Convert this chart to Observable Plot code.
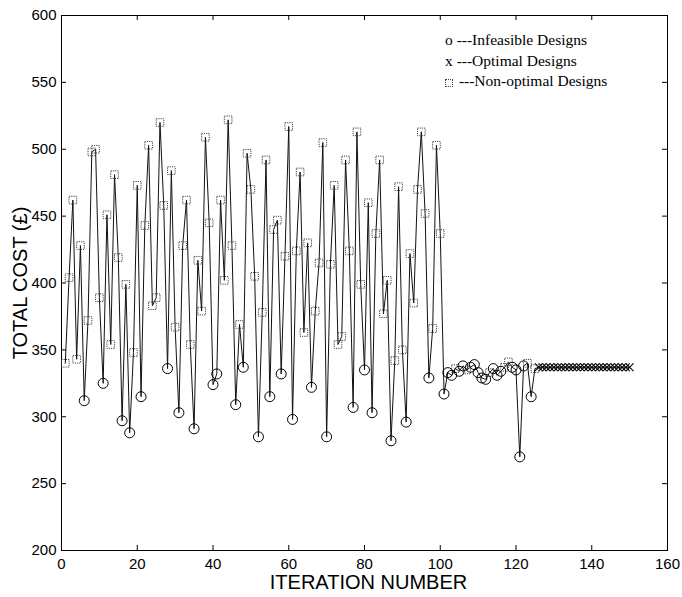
<!DOCTYPE html>
<html><head><meta charset="utf-8">
<script src="https://cdn.jsdelivr.net/npm/d3@7"></script>
<script src="https://cdn.jsdelivr.net/npm/@observablehq/plot@0.6"></script>
<style>
body{margin:0;background:#fff;}
#wrap{position:relative;width:682px;height:597px;}
.legend{position:absolute;left:445px;top:30px;font-family:"Liberation Serif","Times New Roman",serif;font-size:15.5px;line-height:20.5px;color:#000;white-space:nowrap;}
.sq{display:inline-block;width:6px;height:6px;border:1px dotted #444;margin-right:2px;vertical-align:-1px;}
</style></head><body><div id="wrap"></div>
<script>
// ---- data ----
const totalCost = [
 340,404,462,343,428,312,372,498,500,389,
 325,451,354,481,419,297,399,288,348,473,
 315,443,503,383,389,520,458,336,484,367,
 303,428,462,354,291,417,379,509,445,324,
 332,462,402,522,428,309,369,337,497,470,
 405,285,378,492,315,440,447,332,420,517,
 298,424,483,363,430,322,379,415,505,285,
 414,473,354,360,492,424,307,513,399,335,
 460,303,437,492,377,402,282,342,472,350,
 296,422,385,470,513,452,329,366,503,437,
 317,333,331,336,334,338,335,337,339,333,
 329,328,333,336,331,334,337,341,337,335,
 270,338,340,315,336,337,337,337,337,337,
 337,337,337,337,337,337,337,337,337,337,
 337,337,337,337,337,337,337,337,337,337
];
// I = infeasible, O = optimal, N = non-optimal
const designType = [
 "N","N","N","N","N","I","N","N","N","N",
 "I","N","N","N","N","I","N","I","N","N",
 "I","N","N","N","N","N","N","I","N","N",
 "I","N","N","N","I","N","N","N","N","I",
 "I","N","N","N","N","I","N","I","N","N",
 "N","I","N","N","I","N","N","I","N","N",
 "I","N","N","N","N","I","N","N","N","I",
 "N","N","N","N","N","N","I","N","N","I",
 "N","I","N","N","N","N","I","N","N","N",
 "I","N","N","N","N","N","I","N","N","N",
 "I","I","I","N","I","I","N","I","I","I",
 "I","I","N","I","I","I","N","N","I","I",
 "I","I","N","I","N","O","O","O","O","O",
 "O","O","O","O","O","O","O","O","O","O",
 "O","O","O","O","O","O","O","O","O","O"
];
const xTicks = [0,20,40,60,80,100,120,140,160];
const yTicks = [200,250,300,350,400,450,500,550,600];
const xLabel = "ITERATION NUMBER";
const yLabel = "TOTAL COST (£)";
const legendItems = ["---Infeasible Designs","---Optimal Designs","---Non-optimal Designs"];

const data = totalCost.map((v,k)=>({iter:k+1, cost:v, type:designType[k]}));
const W = 682, H = 597, mL = 61, mR = 15, mT = 15, mB = 47;
const fw = W-mL-mR, fh = H-mT-mB, tk = 5;

const chart = Plot.plot({
  width: W, height: H,
  marginLeft: mL, marginRight: mR, marginTop: mT, marginBottom: mB,
  style: {fontFamily: "'Liberation Sans', Arial, sans-serif", background: "#fff", color: "#000"},
  x: {domain: [0,160]},
  y: {domain: [200,600]},
  marks: [
    Plot.frame({stroke: "#000", strokeWidth: 1}),
    Plot.axisX({ticks: xTicks, tickSize: 0, tickPadding: 8, fontSize: 15, label: null, tickFormat: d=>d}),
    Plot.axisY({ticks: yTicks, tickSize: 0, tickPadding: 5, fontSize: 15, label: null, tickFormat: d=>d}),
    Plot.ruleX(xTicks, {x: d=>d, insetTop: fh-tk, stroke: "#000"}),
    Plot.ruleX(xTicks, {x: d=>d, insetBottom: fh-tk, stroke: "#000"}),
    Plot.ruleY(yTicks, {y: d=>d, insetRight: fw-tk, stroke: "#000"}),
    Plot.ruleY(yTicks, {y: d=>d, insetLeft: fw-tk, stroke: "#000"}),
    Plot.line(data, {x: "iter", y: "cost", stroke: "#111", strokeWidth: 1}),
    Plot.dot(data.filter(d=>d.type==="N"), {x: "iter", y: "cost", symbol: "square", r: 4.3, stroke: "#444", strokeWidth: 1, strokeDasharray: "1.2,1", fill: "none"}),
    Plot.dot(data.filter(d=>d.type==="I"), {x: "iter", y: "cost", symbol: "circle", r: 5, stroke: "#000", strokeWidth: 1, fill: "none"}),
    Plot.dot(data.filter(d=>d.type==="O"), {x: "iter", y: "cost", symbol: "times", r: 3.6, stroke: "#000", strokeWidth: 1.1}),
    Plot.text([xLabel], {frameAnchor: "bottom", text: d=>d, dy: 24, dx: 4, lineAnchor: "top", fontSize: 20}),
    Plot.text([yLabel], {frameAnchor: "left", text: d=>d, rotate: -90, dx: -41, textAnchor: "middle", lineAnchor: "middle", fontSize: 20})
  ]
});
const wrap = document.getElementById("wrap");
wrap.appendChild(chart);
const leg = document.createElement("div");
leg.className = "legend";
const syms = ["o","x",null];
legendItems.forEach((t,k)=>{
  const row = document.createElement("div");
  if (syms[k]) { const s = document.createElement("span"); s.textContent = syms[k] + " "; row.appendChild(s); }
  else { const s = document.createElement("span"); s.className = "sq"; row.appendChild(s); row.appendChild(document.createTextNode(" ")); }
  row.appendChild(document.createTextNode(t));
  leg.appendChild(row);
});
wrap.appendChild(leg);
</script></body></html>
